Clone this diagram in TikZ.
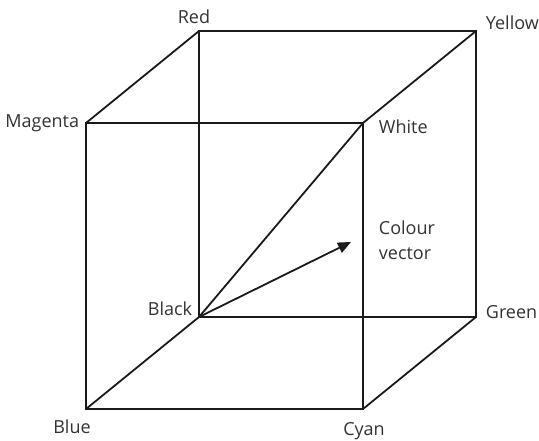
\documentclass[tikz,border=0pt]{standalone}
\usepackage{fontspec}
\setmainfont{Open Sans}
\usetikzlibrary{arrows.meta, positioning, calc}
\definecolor{cline}{HTML}{1A1A1A}
\definecolor{ctext}{HTML}{333333}
\tikzset{
  every picture/.style={line width=1.8pt},
  edge/.style={draw=cline, line width=1.8pt},
  arrow/.style={-{Triangle[length=13pt, width=11pt]}, draw=cline, line width=1.8pt},
  lab/.style={font=\fontsize{18}{25}\selectfont, text=ctext, inner sep=0pt},
}
\begin{document}
\begin{tikzpicture}[x=1pt, y=-1pt]
  \useasboundingbox (0,0) rectangle (539,440);
  % corners of the cube
  \coordinate (magenta) at (86,123);
  \coordinate (white) at (363,123);
  \coordinate (cyan) at (363,409);
  \coordinate (blue) at (86,409);
  \coordinate (red) at (199,31);
  \coordinate (yellow) at (476,31);
  \coordinate (green) at (476,317);
  \coordinate (black) at (199,317);
  \coordinate (tip) at (351,242);
  % faces and edges
  \draw[edge] (magenta) -- (white) -- (cyan) -- (blue) -- cycle;
  \draw[edge] (red) -- (yellow) -- (green) -- (black) -- cycle;
  \foreach \a/\b in {magenta/red, white/yellow, cyan/green, blue/black}
    \draw[edge] (\a) -- (\b);
  \draw[edge] (black) -- (white);
  \draw[arrow] (black) -- (tip);
  % labels
  \node[lab, anchor=base] (lred) at (194,23) {Red};
  \node[lab, anchor=base west] (lyellow) at (485,29) {Yellow};
  \node[lab, anchor=base east] (lmagenta) at (80,127) {Magenta};
  \node[lab, anchor=base west] (lwhite) at (378,133) {White};
  \node[lab, anchor=west, align=left] (lvector) at (378,240) {Colour\\vector};
  \node[lab, anchor=base east] (lblack) at (193,315) {Black};
  \node[lab, anchor=base west] (lgreen) at (485,318) {Green};
  \node[lab, anchor=base] (lblue) at (72,433) {Blue};
  \node[lab, anchor=base] (lcyan) at (364,435) {Cyan};
\end{tikzpicture}
\end{document}
